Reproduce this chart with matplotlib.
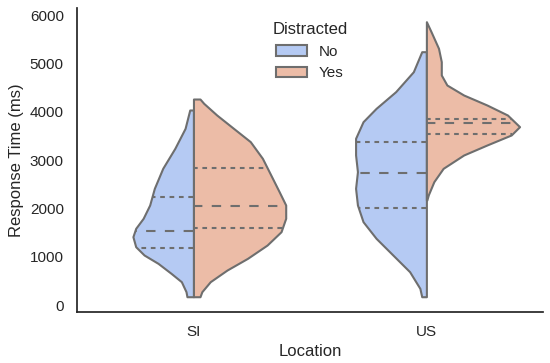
import numpy as np
import matplotlib
matplotlib.use("Agg")
import matplotlib.pyplot as plt
from matplotlib.patches import Patch
import seaborn as sns

# ---- data ----
locations = ["SI", "US"]
hue_levels = ["No", "Yes"]

# density profiles: response time (ms) and relative density (max = 1)
si_no_rt = [172, 276, 483, 655, 862, 1035, 1207, 1414, 1587, 1794, 2069, 2414, 2828, 3242, 3655, 4035]
si_no_dens = [0.07, 0.08, 0.13, 0.24, 0.38, 0.53, 0.62, 0.65, 0.62, 0.54, 0.47, 0.42, 0.33, 0.20, 0.09, 0.04]

si_yes_rt = [172, 276, 483, 724, 966, 1241, 1517, 1794, 2069, 2344, 2690, 3035, 3380, 3655, 3931, 4173, 4262]
si_yes_dens = [0.07, 0.09, 0.18, 0.36, 0.58, 0.79, 0.94, 0.99, 0.99, 0.92, 0.83, 0.74, 0.61, 0.43, 0.25, 0.11, 0.07]

us_no_rt = [172, 345, 690, 1035, 1380, 1724, 2069, 2414, 2758, 3104, 3449, 3793, 4069, 4414, 4827, 5241]
us_no_dens = [0.05, 0.07, 0.18, 0.36, 0.54, 0.68, 0.74, 0.76, 0.74, 0.76, 0.76, 0.68, 0.54, 0.33, 0.14, 0.05]

us_yes_rt = [2172, 2276, 2552, 2828, 3104, 3311, 3518, 3690, 3931, 4138, 4345, 4552, 4759, 5035, 5311, 5655, 5862]
us_yes_dens = [0.005, 0.02, 0.08, 0.18, 0.40, 0.65, 0.91, 1.0, 0.87, 0.65, 0.40, 0.22, 0.16, 0.16, 0.13, 0.05, 0.0]

# quartiles (q25, median, q75)
si_no_q = [1173, 1531, 2241]
si_yes_q = [1587, 2048, 2828]
us_no_q = [2000, 2738, 3380]
us_yes_q = [3538, 3759, 3848]

# ---- style ----
sns.set_theme(style="white", context="notebook")
plt.rcParams["font.family"] = ["Liberation Sans", "DejaVu Sans"]

pal = sns.color_palette("coolwarm", 2)
pal = [sns.desaturate(c, 0.75) for c in pal]
line_gray = "#6e6e6e"
lw = 1.5
half_width = 0.4

fig = plt.figure(figsize=(5.5, 3.63), dpi=100)
ax = fig.add_axes([0.14, 0.1413, 0.847, 0.836])

violins = [
    (0, -1, si_no_rt, si_no_dens, si_no_q, pal[0]),
    (0, 1, si_yes_rt, si_yes_dens, si_yes_q, pal[1]),
    (1, -1, us_no_rt, us_no_dens, us_no_q, pal[0]),
    (1, 1, us_yes_rt, us_yes_dens, us_yes_q, pal[1]),
]

for center, side, rt, dens, q, col in violins:
    rt = np.asarray(rt, float)
    dens = np.asarray(dens, float) * half_width
    ax.fill_betweenx(rt, center, center + side * dens, facecolor=col,
                     edgecolor=line_gray, linewidth=lw, zorder=2)
    for i, val in enumerate(q):
        w = np.interp(val, rt, dens)
        dashes = [lw * 3] * 2 if i == 1 else [lw * 1.5] * 2
        ax.plot([center, center + side * w], [val, val], color=line_gray,
                linewidth=lw, dashes=[d / lw for d in dashes] if False else dashes,
                zorder=3)

ax.set_xlim(-0.5, 1.5)
ax.set_ylim(-138, 6140)
ax.set_xticks(range(len(locations)))
ax.set_xticklabels(locations)
ax.set_yticks([0, 1000, 2000, 3000, 4000, 5000, 6000])
ax.set_xlabel("Location")
ax.set_ylabel("Response Time (ms)")
sns.despine(ax=ax)

handles = [Patch(facecolor=pal[i], edgecolor=line_gray, linewidth=lw, label=h)
           for i, h in enumerate(hue_levels)]
ax.legend(handles=handles, title="Distracted", loc="upper center", frameon=False)

fig.savefig("out.png", dpi=100)
